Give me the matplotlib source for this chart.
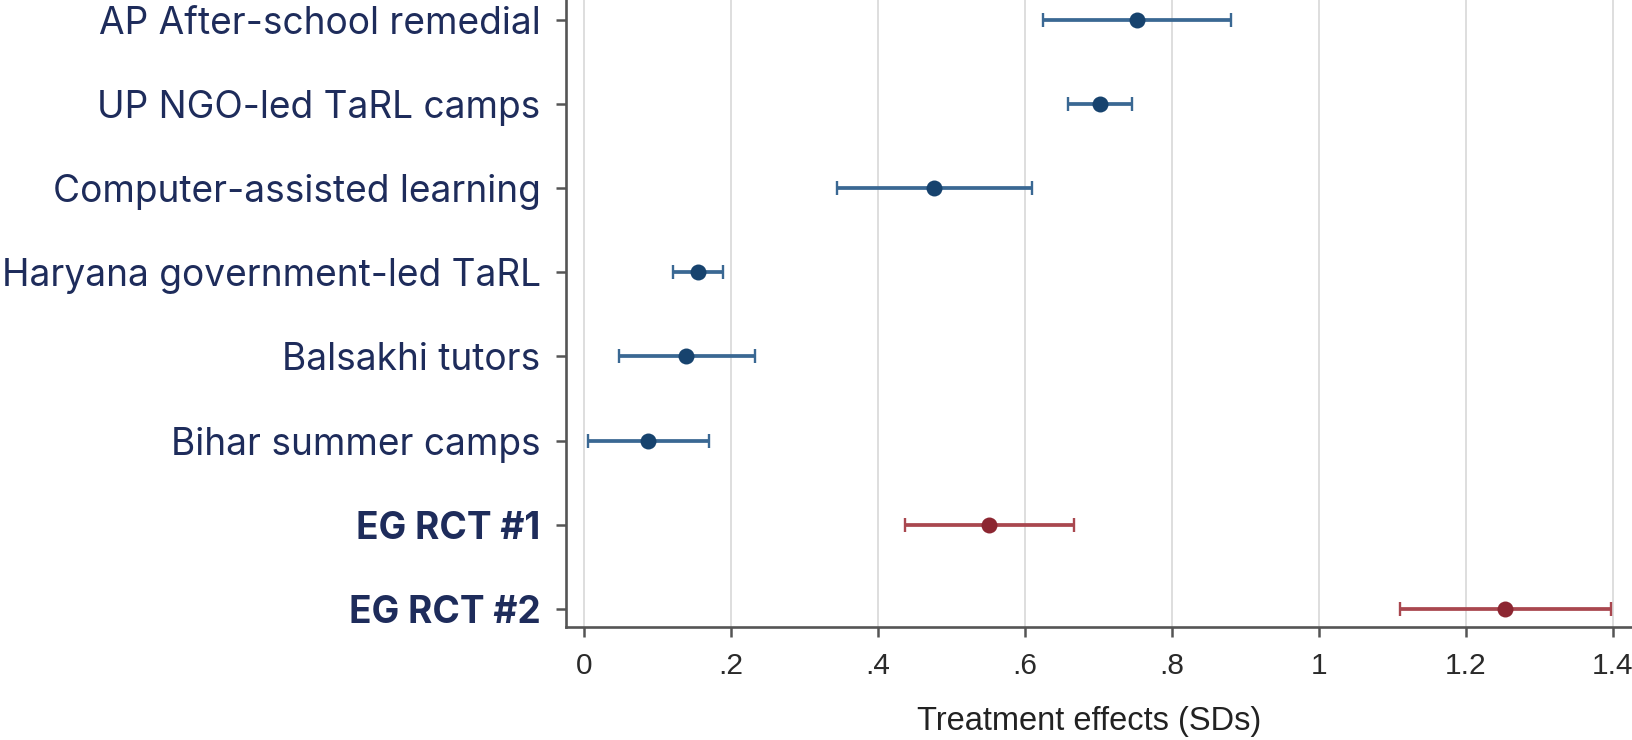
import matplotlib
matplotlib.use("Agg")
import matplotlib.pyplot as plt

# Programme names, top to bottom
programs = [
    "AP After-school remedial",
    "UP NGO-led TaRL camps",
    "Computer-assisted learning",
    "Haryana government-led TaRL",
    "Balsakhi tutors",
    "Bihar summer camps",
    "EG RCT #1",
    "EG RCT #2",
]
# Point estimates and 95% confidence bounds (SDs)
estimates = [0.752, 0.702, 0.476, 0.155, 0.139, 0.087, 0.551, 1.253]
ci_low = [0.624, 0.659, 0.344, 0.121, 0.047, 0.005, 0.437, 1.111]
ci_high = [0.880, 0.746, 0.610, 0.189, 0.232, 0.170, 0.666, 1.397]
is_eg = [False, False, False, False, False, False, True, True]

x_ticks = [0, 0.2, 0.4, 0.6, 0.8, 1.0, 1.2, 1.4]
x_ticklabels = ["0", ".2", ".4", ".6", ".8", "1", "1.2", "1.4"]

BLUE_DOT = "#17436e"
BLUE_BAR = "#3a6893"
RED_DOT = "#8c2631"
RED_BAR = "#a9474f"
LABEL = "#1e2c5b"
AXIS = "#555555"

fig = plt.figure(figsize=(16.33, 7.4), dpi=100)
ax = fig.add_axes([0.3464, 0.1531, 1 - 0.3464, 1 - 0.1531])

for i, (est, lo, hi, eg) in enumerate(zip(estimates, ci_low, ci_high, is_eg)):
    dot = RED_DOT if eg else BLUE_DOT
    bar = RED_BAR if eg else BLUE_BAR
    ax.errorbar(
        est, i, xerr=[[est - lo], [hi - est]], fmt="none",
        ecolor=bar, elinewidth=2.7, capsize=5.2, capthick=1.7, zorder=3,
    )
    ax.plot(est, i, "o", color=dot, markersize=11.5, markeredgewidth=0, zorder=4)

ax.set_xlim(-0.0253, 1.4276)
ax.set_ylim(7.21, -0.235)

ax.set_xticks(x_ticks)
ax.set_xticklabels(x_ticklabels)
ax.set_yticks(range(len(programs)))
ax.set_yticklabels(programs)

ax.grid(axis="x", color="#dedede", linewidth=1.4, zorder=0)
ax.set_axisbelow(True)

for side in ("top", "right"):
    ax.spines[side].set_visible(False)
for side in ("left", "bottom"):
    ax.spines[side].set_color(AXIS)
    ax.spines[side].set_linewidth(1.9)

ax.tick_params(axis="both", length=7.5, width=1.8, color=AXIS)
ax.tick_params(axis="y", pad=10.5)
ax.tick_params(axis="x", pad=10.5)

for lab, eg in zip(ax.get_yticklabels(), is_eg):
    lab.set_fontfamily(["Inter", "DejaVu Sans"])
    lab.set_fontsize(26.7)
    lab.set_color(LABEL)
    if eg:
        lab.set_fontweight("bold")

for lab in ax.get_xticklabels():
    lab.set_fontfamily(["Liberation Sans", "DejaVu Sans"])
    lab.set_fontsize(21.5)
    lab.set_color("#2a2a2a")

ax.set_xlabel("Treatment effects (SDs)", fontsize=23.5, color="#222222",
              family=["Liberation Sans", "DejaVu Sans"])
ax.xaxis.set_label_coords(0.490, -0.152)
ax.xaxis.label.set_verticalalignment("center")

fig.savefig("out.png", dpi=100)
